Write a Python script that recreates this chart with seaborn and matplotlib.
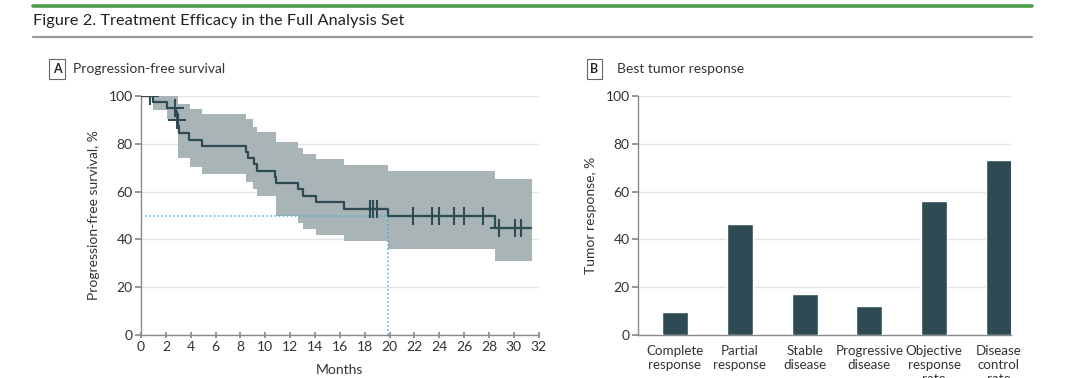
import numpy as np
import pandas as pd
import matplotlib
matplotlib.use('Agg')
import matplotlib.pyplot as plt
import seaborn as sns

# Kaplan-Meier progression-free survival
km_time = [0, 0.96, 2.1, 2.8, 2.95, 3.0, 3.05, 3.85, 4.9, 8.45, 8.6, 9.05, 9.35,
           10.8, 10.9, 12.6, 13.05, 14.05, 16.35, 19.85, 28.5, 31.4]
km_surv = [100, 97.6, 95.1, 92.5, 89.9, 87.3, 84.4, 81.8, 79.3, 76.6, 74.0, 71.4, 68.8,
           66.1, 63.5, 60.9, 58.2, 55.6, 52.9, 49.6, 44.6, 44.6]

# 95% confidence band
ci_time = [0, 0.96, 2.1, 3.0, 3.9, 4.9, 8.45, 9.0, 9.35, 10.85, 12.6, 13.05,
           14.05, 16.35, 19.85, 28.5, 31.5]
ci_upper = [100, 100, 100, 96.7, 94.8, 92.6, 90.2, 87.2, 84.8, 80.7, 78.1, 75.7,
            73.5, 71.0, 68.5, 65.3, 65.3]
ci_lower = [100, 94.0, 90.5, 73.9, 70.4, 67.3, 64.1, 60.9, 58.1, 49.8, 46.9, 44.3,
            41.9, 39.2, 36.1, 30.8, 30.8]

# censored observations
cens_time = [0.75, 2.73, 2.92, 18.4, 18.7, 19.0, 21.9, 23.4, 24.0, 25.2, 25.95, 27.5,
             28.8, 30.1, 30.6]
cens_surv = [100, 95.1, 89.9, 52.9, 52.9, 52.9, 49.6, 49.6, 49.6, 49.6, 49.6, 49.6,
             44.6, 44.6, 44.6]

median_pfs = 19.85

# Best tumor response
categories = ['Complete\nresponse', 'Partial\nresponse', 'Stable\ndisease',
              'Progressive\ndisease', 'Objective\nresponse\nrate', 'Disease\ncontrol\nrate']
response_pct = [9.8, 46.3, 17.1, 12.2, 56.1, 73.2]

sns.set_theme(style='white')
plt.rcParams['font.family'] = ['Lato', 'DejaVu Sans']

dark = '#2e4a52'
band = '#a9b4b7'
grid_c = '#e3e3e3'
spine_c = '#8a8a8a'
text_c = '#333333'

fig = plt.figure(figsize=(10.8, 3.78), dpi=100)

# header lines + title
fig.add_artist(plt.Line2D([0.031, 0.956], [0.984, 0.984], color='#4a9e4a', lw=2.6))
fig.add_artist(plt.Line2D([0.031, 0.956], [0.902, 0.902], color='#999999', lw=1.6))
fig.text(0.031, 0.944, 'Figure 2. Treatment Efficacy in the Full Analysis Set',
         fontsize=11.8, color='#222222', va='center', ha='left')

box = dict(boxstyle='square,pad=0.3', fc='white', ec='#666666', lw=0.8)
fig.text(0.0528, 0.817, 'A', fontsize=9, fontweight='bold', va='center', ha='center', bbox=box)
fig.text(0.0675, 0.817, 'Progression-free survival', fontsize=10, va='center', color=text_c)
fig.text(0.5505, 0.817, 'B', fontsize=9, fontweight='bold', va='center', ha='center', bbox=box)
fig.text(0.571, 0.817, 'Best tumor response', fontsize=10, va='center', color=text_c)

axA = fig.add_axes([0.1306, 0.1138, 0.3682, 0.632])
axB = fig.add_axes([0.5907, 0.1138, 0.3454, 0.632])

# ---- panel A
km = pd.DataFrame({'Months': km_time, 'PFS': km_surv})
axA.fill_between(ci_time, ci_lower, ci_upper, step='post', color=band, lw=0, zorder=2)
sns.lineplot(data=km, x='Months', y='PFS', ax=axA, color=dark, lw=1.6,
             drawstyle='steps-post', estimator=None, sort=False, zorder=4)
cens = pd.DataFrame({'Months': cens_time, 'PFS': cens_surv})
sns.scatterplot(data=cens, x='Months', y='PFS', ax=axA, marker='+', s=160,
                color=dark, linewidth=1.5, zorder=5)
axA.plot([0, median_pfs], [50, 50], ls=':', color='#2bb8d8', lw=1.1, zorder=3)
axA.plot([median_pfs, median_pfs], [0, 50], ls=':', color='#2bb8d8', lw=1.1, zorder=3)

axA.set_xlim(0, 32)
axA.set_ylim(0, 100)
axA.set_xticks(range(0, 33, 2))
axA.set_yticks(range(0, 101, 20))
axA.set_xlabel('Months', fontsize=10, color=text_c, labelpad=8)
axA.set_ylabel('Progression-free survival, %', fontsize=10, color=text_c, labelpad=6)

# ---- panel B
resp = pd.DataFrame({'cat': categories, 'pct': response_pct})
sns.barplot(data=resp, x='cat', y='pct', ax=axB, color=dark, width=0.4,
            saturation=1, zorder=3)
axB.set_xlim(-0.571, 5.185)
axB.set_ylim(0, 100)
axB.set_yticks(range(0, 101, 20))
axB.set_xlabel('')
axB.set_ylabel('Tumor response, %', fontsize=10, color=text_c, labelpad=6)

for ax in (axA, axB):
    ax.grid(axis='y', color=grid_c, lw=1, zorder=0)
    ax.set_axisbelow(True)
    for s in ('top', 'right'):
        ax.spines[s].set_visible(False)
    for s in ('left', 'bottom'):
        ax.spines[s].set_color(spine_c)
        ax.spines[s].set_linewidth(1)
    ax.tick_params(axis='y', length=4, color=spine_c, labelsize=10, labelcolor=text_c, pad=2,
                   left=True)
    ax.tick_params(axis='x', labelsize=10, labelcolor=text_c)
axA.tick_params(axis='x', direction='inout', length=5, color=spine_c, bottom=True, pad=2)
axB.tick_params(axis='x', length=0, pad=7, labelsize=9.6)

fig.savefig('out.png', dpi=100)
